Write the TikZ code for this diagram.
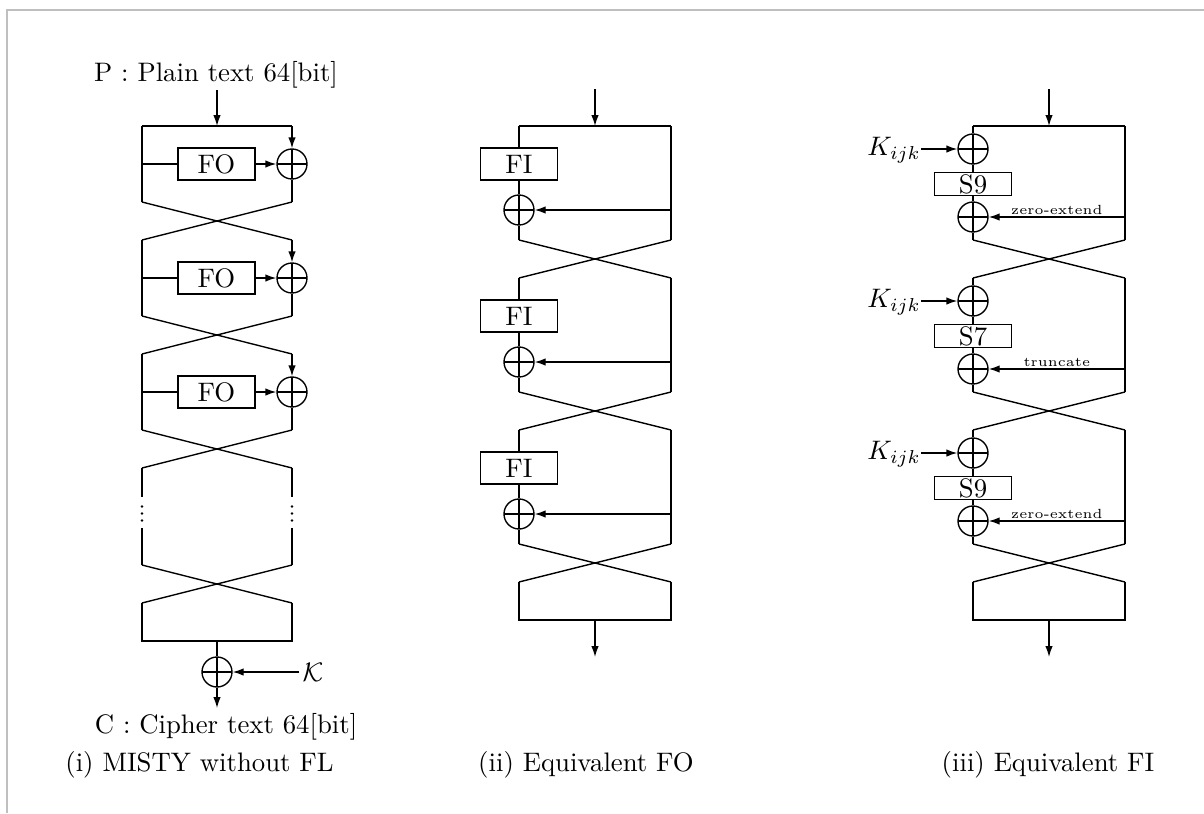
\RequirePackage{fix-cm}
\documentclass[tikz,border=0pt]{standalone}
\usetikzlibrary{arrows.meta}
\tikzset{
  ln/.style={line width=0.55pt},
  arr/.style={ln,-{Latex[length=4.4pt,width=3pt]}},
  xor/.style={circle,draw,ln,minimum size=12pt,inner sep=0pt,
    path picture={\draw[ln] (path picture bounding box.north) -- (path picture bounding box.south)
      (path picture bounding box.west) -- (path picture bounding box.east);}},
  fbox/.style={draw,ln,minimum width=30.8pt,minimum height=12.8pt,inner sep=0pt},
  sbox/.style={draw,ln,minimum width=30.8pt,minimum height=9.2pt,inner sep=0pt},
  txt/.style={inner sep=0.5pt},
  lab/.style={font=\fontsize{5.3pt}{6pt}\selectfont,inner sep=0.8pt,above},
}
\begin{document}
\begin{tikzpicture}[x=0.4pt,y=-0.4pt,every path/.style={ln},font=\fontsize{10.7pt}{12.8pt}\selectfont]
\useasboundingbox (0,0) rectangle (1204,813);
\draw[black!25,line width=0.8pt] (7,813) -- (7,10) -- (1204,10);

%% ---------------- (i) MISTY without FL ----------------
\node[txt] (ptext) at (216,74.5) {P : Plain text 64[bit]};
\coordinate (iin) at (217,126);
\draw[arr] (ptext.south -| iin) -- (iin);
\foreach \k/\T in {1/126,2/240,3/354}{
  \coordinate (iL\k) at (142,\T);
  \coordinate (iR\k) at (292,\T);
  \node[fbox] (fo\k) at (216.5,\T+38) {FO};
  \node[xor] (ix\k) at (292,\T+38) {};
  \coordinate (iLb\k) at (142,\T+76);
  \coordinate (iRb\k) at (292,\T+76);
  \coordinate (iLn\k) at (142,\T+114);
  \coordinate (iRn\k) at (292,\T+114);
  \draw (iL\k) -- (iLb\k);
  \draw[arr] (iR\k) -- (ix\k);
  \draw (ix\k) -- (iRb\k);
  \draw (iL\k |- fo\k) -- (fo\k);
  \draw[arr] (fo\k) -- (ix\k);
  \draw (iLb\k) -- (iRn\k) (iRb\k) -- (iLn\k);
}
\draw (iL1) -- (iR1);
% continuation with dots
\coordinate (iLd1) at (142,497); \coordinate (iLd2) at (142,528);
\coordinate (iRd1) at (292,497); \coordinate (iRd2) at (292,528);
\coordinate (iLe) at (142,565); \coordinate (iRe) at (292,565);
\coordinate (iLf) at (142,603); \coordinate (iRf) at (292,603);
\coordinate (iLg) at (142,641); \coordinate (iRg) at (292,641);
\draw (iLn3) -- (iLd1) (iLd2) -- (iLe);
\draw (iRn3) -- (iRd1) (iRd2) -- (iRe);
\foreach \x in {142,292}{\foreach \y in {506.5,513.5,520.5}{\fill (\x,\y) circle[radius=1.4];}}
\draw (iLe) -- (iRf) (iRe) -- (iLf);
\draw (iLf) -- (iLg) -- (iRg) -- (iRf);
\coordinate (ibot) at (217,641);
\node[xor] (ixk) at (217,672) {};
\node[inner sep=1pt] (calK) at (313,672) {$\mathcal{K}$};
\coordinate (iout) at (217,708);
\draw (ibot) -- (ixk);
\draw[arr] (calK) -- (ixk);
\draw[arr] (ixk) -- (iout);
\node[txt] (ctext) at (226,727) {C : Cipher text 64[bit]};
\node[txt] (cap1) at (199.5,765) {(i) MISTY without FL};

%% ---------------- (ii) Equivalent FO ----------------
\coordinate (jin0) at (595,89);
\coordinate (jin) at (595,126);
\draw[arr] (jin0) -- (jin);
\foreach \k/\T in {1/126,2/278,3/430}{
  \coordinate (jL\k) at (519,\T); \coordinate (jR\k) at (671,\T);
  \node[fbox] (fi\k) at (519,\T+38) {FI};
  \node[xor] (jx\k) at (519,\T+84) {};
  \coordinate (jLb\k) at (519,\T+114); \coordinate (jRb\k) at (671,\T+114);
  \coordinate (jLn\k) at (519,\T+152); \coordinate (jRn\k) at (671,\T+152);
  \draw (jL\k) -- (fi\k);
  \draw (fi\k) -- (jx\k);
  \draw (jx\k) -- (jLb\k);
  \draw (jR\k) -- (jRb\k);
  \draw[arr] (jR\k |- jx\k) -- (jx\k);
  \draw (jLb\k) -- (jRn\k) (jRb\k) -- (jLn\k);
}
\draw (jL1) -- (jR1);
\coordinate (jLg) at (519,620); \coordinate (jRg) at (671,620);
\draw (jLn3) -- (jLg) -- (jRg) -- (jRn3);
\coordinate (jbot) at (595,620); \coordinate (jout) at (595,657);
\draw[arr] (jbot) -- (jout);
\node[txt] (cap2) at (586,765) {(ii) Equivalent FO};

%% ---------------- (iii) Equivalent FI ----------------
\coordinate (kin0) at (1049,89);
\coordinate (kin) at (1049,126);
\draw[arr] (kin0) -- (kin);
\foreach \k/\T/\S/\L in {1/126/S9/zero-extend,2/278/S7/truncate,3/430/S9/zero-extend}{
  \coordinate (kL\k) at (973,\T); \coordinate (kR\k) at (1125,\T);
  \node[xor] (kx\k) at (973,\T+23) {};
  \node[sbox] (s\k) at (973,\T+58) {\S};
  \node[xor] (ky\k) at (973,\T+91) {};
  \node[inner sep=0pt] (K\k) at (894,\T+24) {$K_{ijk}$};
  \coordinate (kLb\k) at (973,\T+114); \coordinate (kRb\k) at (1125,\T+114);
  \coordinate (kLn\k) at (973,\T+152); \coordinate (kRn\k) at (1125,\T+152);
  \draw (kL\k) -- (kx\k);
  \draw (kx\k) -- (s\k);
  \draw (s\k) -- (ky\k);
  \draw (ky\k) -- (kLb\k);
  \draw (kR\k) -- (kRb\k);
  \draw[arr] (K\k.east |- kx\k) -- (kx\k);
  \draw[arr] (kR\k |- ky\k) -- node[lab] {\L} (ky\k);
  \draw (kLb\k) -- (kRn\k) (kRb\k) -- (kLn\k);
}
\draw (kL1) -- (kR1);
\coordinate (kLg) at (973,620); \coordinate (kRg) at (1125,620);
\draw (kLn3) -- (kLg) -- (kRg) -- (kRn3);
\coordinate (kbot) at (1049,620); \coordinate (kout) at (1049,657);
\draw[arr] (kbot) -- (kout);
\node[txt] (cap3) at (1048,765) {(iii) Equivalent FI};
\end{tikzpicture}
\end{document}
